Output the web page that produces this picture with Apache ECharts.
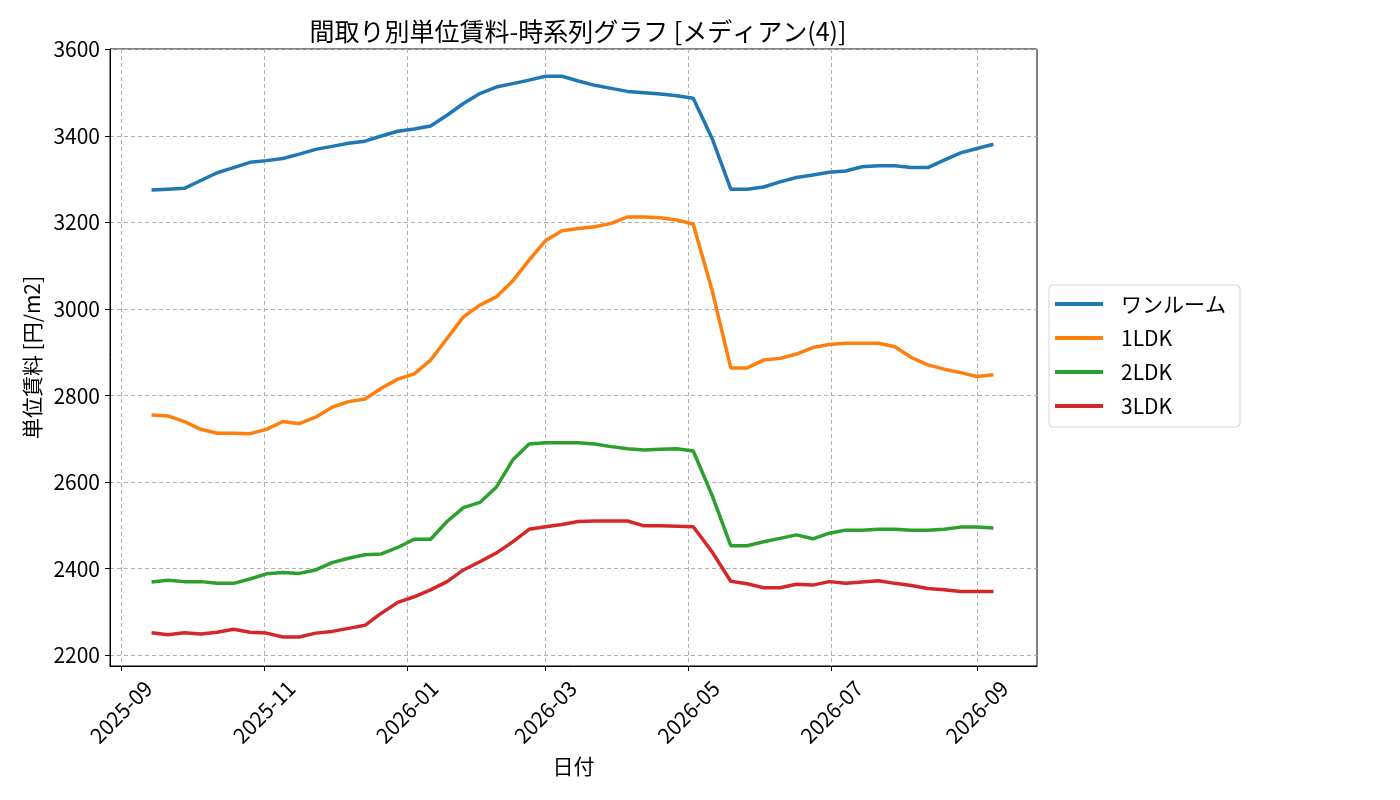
<!DOCTYPE html>
<html lang="ja">
<head>
<meta charset="utf-8">
<title>間取り別単位賃料-時系列グラフ</title>
<script src="https://cdn.jsdelivr.net/npm/echarts@6/dist/echarts.min.js"></script>
<style>
  html, body { margin: 0; padding: 0; background: #fff; }
  #chart { width: 1400px; height: 800px; }
</style>
</head>
<body>
<div id="chart"></div>
<script>
// 集計日 (週次, 5月に一度だけ間隔が空く)
var dates = [
  '2025-09-14', '2025-09-21', '2025-09-28', '2025-10-05', '2025-10-12', '2025-10-19', '2025-10-26',
  '2025-11-02', '2025-11-09', '2025-11-16', '2025-11-23', '2025-11-30', '2025-12-07', '2025-12-14',
  '2025-12-21', '2025-12-28', '2026-01-04', '2026-01-11', '2026-01-18', '2026-01-25', '2026-02-01',
  '2026-02-08', '2026-02-15', '2026-02-22', '2026-03-01', '2026-03-08', '2026-03-15', '2026-03-22',
  '2026-03-29', '2026-04-05', '2026-04-12', '2026-04-19', '2026-04-26', '2026-05-03', '2026-05-11',
  '2026-05-19', '2026-05-26', '2026-06-02', '2026-06-09', '2026-06-16', '2026-06-23', '2026-06-30',
  '2026-07-07', '2026-07-14', '2026-07-21', '2026-07-28', '2026-08-04', '2026-08-11', '2026-08-18',
  '2026-08-25', '2026-09-01', '2026-09-08'
];

var oneRoom = [3275, 3277, 3279, 3297, 3315, 3327, 3339, 3343, 3348, 3358,
  3369, 3376, 3383, 3388, 3400, 3411, 3416, 3423, 3448, 3475,
  3498, 3513, 3521, 3529, 3538, 3538, 3527, 3517, 3510, 3503,
  3500, 3497, 3493, 3487, 3395, 3277, 3277, 3282, 3294, 3304,
  3310, 3316, 3319, 3329, 3331, 3331, 3327, 3327, 3344, 3361,
  3371, 3381];
var ldk1 = [2755, 2753, 2740, 2722, 2713, 2713, 2712, 2722, 2740, 2735,
  2750, 2773, 2786, 2792, 2817, 2838, 2850, 2882, 2932, 2982,
  3009, 3028, 3065, 3113, 3158, 3181, 3186, 3190, 3198, 3213,
  3213, 3211, 3206, 3196, 3044, 2864, 2864, 2882, 2886, 2896,
  2911, 2918, 2921, 2921, 2921, 2913, 2888, 2871, 2861, 2853,
  2844, 2848];
var ldk2 = [2369, 2373, 2370, 2370, 2366, 2366, 2376, 2388, 2391, 2389,
  2397, 2414, 2424, 2432, 2434, 2449, 2468, 2468, 2509, 2541,
  2553, 2588, 2651, 2688, 2691, 2691, 2691, 2688, 2682, 2677,
  2674, 2676, 2677, 2672, 2570, 2453, 2453, 2462, 2470, 2478,
  2469, 2482, 2489, 2489, 2491, 2491, 2489, 2489, 2491, 2496,
  2496, 2494];
var ldk3 = [2252, 2247, 2252, 2249, 2253, 2260, 2253, 2251, 2242, 2242,
  2251, 2255, 2262, 2269, 2297, 2322, 2335, 2351, 2370, 2397,
  2416, 2436, 2462, 2491, 2497, 2502, 2509, 2510, 2510, 2510,
  2499, 2499, 2498, 2497, 2439, 2371, 2365, 2356, 2356, 2364,
  2362, 2370, 2366, 2369, 2372, 2366, 2361, 2354, 2351, 2347,
  2347, 2347];

var seriesNames = ['ワンルーム', '1LDK', '2LDK', '3LDK'];
var colors = ['#1f77b4', '#ff7f0e', '#2ca02c', '#d62728'];

var xTicks = ['2025-09-01', '2025-11-01', '2026-01-01', '2026-03-01', '2026-05-01', '2026-07-01', '2026-09-01'];
var yTicks = [2200, 2400, 2600, 2800, 3000, 3200, 3400, 3600];

var FONT = 'Noto Sans CJK JP';
var HOUR = 3600 * 1000;
var toTime = function (s) { return new Date(s + 'T00:00:00').getTime(); };
var pad = function (n) { return n < 10 ? '0' + n : '' + n; };
var pairs = function (vals) { return vals.map(function (v, i) { return [toTime(dates[i]), v]; }); };

var chart = echarts.init(document.getElementById('chart'), null, { renderer: 'canvas' });

var option = {
  backgroundColor: '#fff',
  animation: false,
  color: colors,
  textStyle: { fontFamily: FONT },
  title: {
    text: '間取り別単位賃料-時系列グラフ [メディアン(4)]',
    left: 573, top: 14, textAlign: 'center',
    textStyle: { fontFamily: FONT, fontSize: 25, fontWeight: 'normal', color: '#000' }
  },
  legend: {
    orient: 'vertical',
    left: 1049, top: 285,
    data: seriesNames,
    icon: 'rect',
    itemWidth: 48, itemHeight: 4,
    itemGap: 10,
    padding: [7, 14, 9, 6],
    backgroundColor: '#fff',
    borderColor: '#d6d6d6', borderWidth: 1, borderRadius: 4,
    textStyle: { fontFamily: FONT, fontSize: 21, color: '#000', lineHeight: 24, padding: [0, 0, 0, 13] }
  },
  grid: {
    left: 110, right: 363, top: 49, bottom: 134,
    show: true, borderColor: '#000', borderWidth: 1, backgroundColor: 'transparent',
    containLabel: false
  },
  xAxis: {
    // 日付はタイムスタンプの数値軸として扱う (目盛りを月初に固定するため)
    type: 'value',
    min: toTime('2025-08-27') + 7 * HOUR,
    max: toTime('2026-09-26') + 14 * HOUR,
    name: '日付',
    nameLocation: 'middle',
    nameGap: 90,
    nameTextStyle: { fontFamily: FONT, fontSize: 21, color: '#000' },
    axisLine: { show: true, onZero: false, lineStyle: { color: '#000', width: 1 } },
    axisTick: { show: true, length: 5, lineStyle: { color: '#000' }, customValues: xTicks.map(toTime) },
    axisLabel: {
      customValues: xTicks.map(toTime),
      rotate: 45, align: 'center', verticalAlign: 'middle', margin: 46,
      fontFamily: FONT, fontSize: 21, color: '#000',
      formatter: function (v) { var d = new Date(v + 12 * HOUR); return d.getFullYear() + '-' + pad(d.getMonth() + 1); }
    },
    splitLine: { show: true, lineStyle: { color: '#b0b0b0', type: [4, 3], width: 1 } }
  },
  yAxis: {
    type: 'value',
    min: 2175, max: 3601,
    name: '単位賃料 [円/m2]',
    nameLocation: 'middle',
    nameGap: 64,
    nameTextStyle: { fontFamily: FONT, fontSize: 21, color: '#000' },
    axisLine: { show: true, onZero: false, lineStyle: { color: '#000', width: 1 } },
    axisTick: { show: true, length: 5, lineStyle: { color: '#000' }, customValues: yTicks },
    axisLabel: {
      customValues: yTicks, margin: 10, fontFamily: FONT, fontSize: 21, color: '#000',
      formatter: function (v) { return String(Math.round(v)); }
    },
    splitLine: { show: true, lineStyle: { color: '#b0b0b0', type: [4, 3], width: 1 } }
  },
  series: [oneRoom, ldk1, ldk2, ldk3].map(function (vals, i) {
    return {
      name: seriesNames[i],
      type: 'line',
      data: pairs(vals),
      showSymbol: false,
      symbol: 'none',
      lineStyle: { width: 3.5, color: colors[i] },
      itemStyle: { color: colors[i] }
    };
  })
};

chart.setOption(option);
</script>
</body>
</html>
